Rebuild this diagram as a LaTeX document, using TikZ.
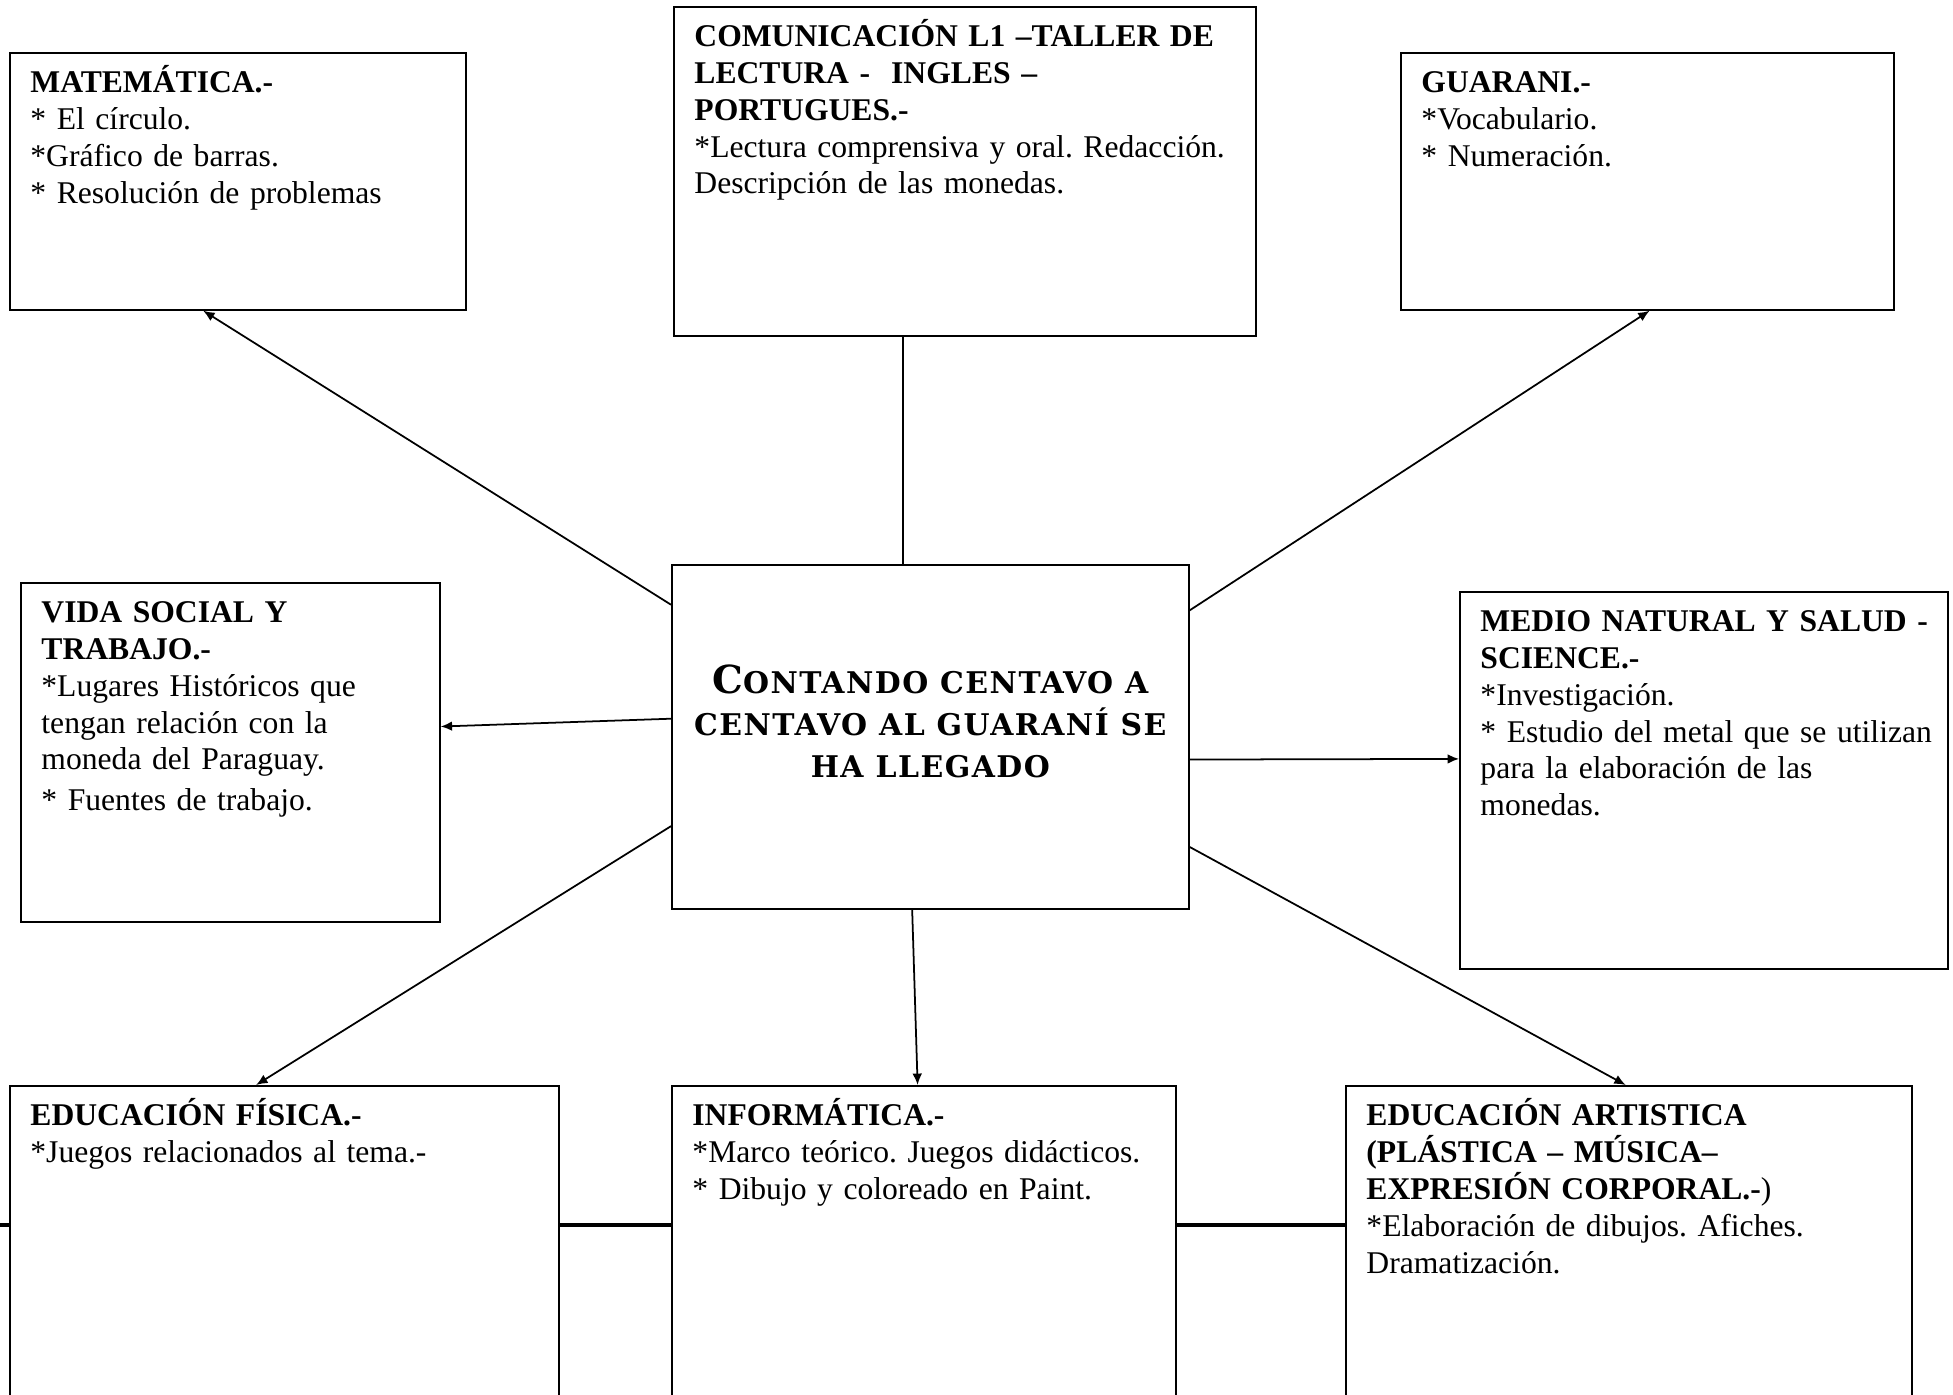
\documentclass[tikz,border=0pt]{standalone}
\usepackage{fontspec}
\setmainfont{Liberation Serif}
\newfontfamily\titlefont{DejaVu Serif}[BoldFont={DejaVu Serif Bold}, LetterSpace=5]
\usetikzlibrary{arrows.meta}
\frenchspacing

\begin{document}
\begin{tikzpicture}[
    x=0.02cm, y=-0.02cm,
    area/.style={draw, line width=1pt, anchor=north west, inner sep=0pt},
    txt/.style={anchor=base west, align=left, inner sep=0pt, text width=#1,
      font=\fontsize{18pt}{21pt}\selectfont},
    link/.style={line width=1pt, -{Latex[length=6.5pt,width=5.5pt]}},
    bar/.style={line width=1.9pt}]

      \useasboundingbox (0,0) rectangle (1953,1395);
      \clip (0,0) rectangle (1953,1395);

      % center
      \node[area, minimum width=10.34cm, minimum height=6.88cm] (ctr) at (671,564) {};
      \node[font=\titlefont\bfseries\fontsize{17pt}{24pt}\selectfont, align=center]
        (ctrT) at ([yshift=9pt]ctr.center)
        {{\fontsize{22pt}{24pt}\selectfont C}ONTANDO CENTAVO A\\
         CENTAVO AL GUARANÍ SE\\ HA LLEGADO};

      % top row
      \node[area, minimum width=9.12cm, minimum height=5.14cm] (mat) at (9,52) {};
      \node[txt=8.8cm] (matT) at ([xshift=12pt,yshift=-23pt]mat.north west)
        {\textbf{MATEMÁTICA.-}\\ {*} El círculo.\\ {*}Gráfico de barras.\\ {*} Resolución de problemas};

      \node[area, minimum width=11.64cm, minimum height=6.58cm] (com) at (673,6) {};
      \node[txt=11.6cm] (comT) at ([xshift=12pt,yshift=-23pt]com.north west)
        {\textbf{COMUNICACIÓN L1 –TALLER DE}\\ \textbf{LECTURA - \ INGLES –}\\
         \textbf{PORTUGUES.-}\\ {*}Lectura comprensiva y oral. Redacción.\\
         Descripción de las monedas.};

      \node[area, minimum width=9.86cm, minimum height=5.14cm] (gua) at (1400,52) {};
      \node[txt=9.5cm] (guaT) at ([xshift=12pt,yshift=-23pt]gua.north west)
        {\textbf{GUARANI.-}\\ {*}Vocabulario.\\ {*} Numeración.};

      % middle row
      \node[area, minimum width=8.38cm, minimum height=6.78cm] (vida) at (20,582) {};
      \node[txt=8.2cm] (vidaT) at ([xshift=12pt,yshift=-23pt]vida.north west)
        {\textbf{VIDA SOCIAL Y}\\ \textbf{TRABAJO.-}\\ {*}Lugares Históricos que\\
         tengan relación con la\\ moneda del Paraguay.\\[2pt] {*} Fuentes de trabajo.};

      \node[area, minimum width=9.76cm, minimum height=7.54cm] (medio) at (1459,591) {};
      \node[txt=9.6cm] (medioT) at ([xshift=12pt,yshift=-23pt]medio.north west)
        {\textbf{MEDIO NATURAL Y SALUD -}\\ \textbf{SCIENCE.-}\\ {*}Investigación.\\
         {*} Estudio del metal que se utilizan\\ para la elaboración de las\\ monedas.};

      % bottom row
      \node[area, minimum width=10.98cm, minimum height=7.1cm] (edf) at (9,1085) {};
      \node[txt=10.6cm] (edfT) at ([xshift=12pt,yshift=-23pt]edf.north west)
        {\textbf{EDUCACIÓN FÍSICA.-}\\ {*}Juegos relacionados al tema.-};

      \node[area, minimum width=10.08cm, minimum height=7.1cm] (inf) at (671,1085) {};
      \node[txt=10cm] (infT) at ([xshift=12pt,yshift=-23pt]inf.north west)
        {\textbf{INFORMÁTICA.-}\\ {*}Marco teórico. Juegos didácticos.\\
         {*} Dibujo y coloreado en Paint.};

      \node[area, minimum width=11.32cm, minimum height=7.1cm] (eda) at (1345,1085) {};
      \node[txt=11cm] (edaT) at ([xshift=12pt,yshift=-23pt]eda.north west)
        {\textbf{EDUCACIÓN ARTISTICA}\\ \textbf{(PLÁSTICA – MÚSICA–}\\
         \textbf{EXPRESIÓN CORPORAL.-})\\ {*}Elaboración de dibujos. Afiches.\\
         Dramatización.};

      % links
      \draw[line width=1pt] (ctr.99.7) -- (ctr.99.7 |- com.south);
      \draw[link] (ctr.153.5) -- (mat.255.2);
      \draw[link] (ctr.26.5) -- (gua.271.6);
      \draw[link] (ctr.176.5) -- (vida.7.7);
      \draw[link] (ctr.-5.3) -- (medio.175.4);
      \draw[link] (ctr.199.6) -- (edf.99.4);
      \draw[link] (ctr.264.5) -- (inf.92.6);
      \draw[link] (ctr.-23.2) -- (eda.91.9);

      \coordinate (mid) at (0,1225);
      \draw[bar] (edf.west |- mid) -- (mid);
      \draw[bar] (edf.east |- mid) -- (inf.west |- mid);
      \draw[bar] (inf.east |- mid) -- (eda.west |- mid);

    \end{tikzpicture}
\end{document}
